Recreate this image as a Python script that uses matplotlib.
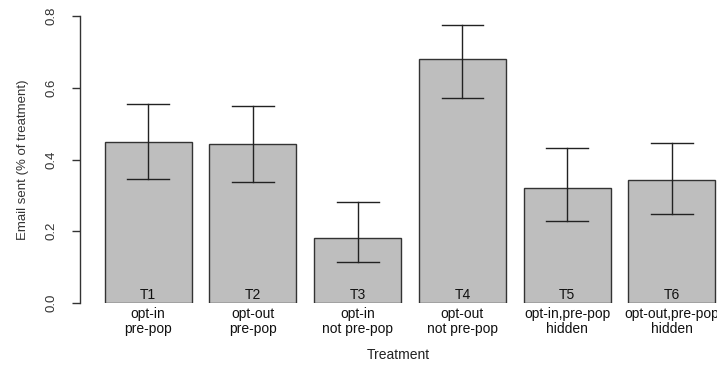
import numpy as np
import matplotlib
matplotlib.use("Agg")
import matplotlib.pyplot as plt

# values
codes = ["T1", "T2", "T3", "T4", "T5", "T6"]
labels = ["opt-in\npre-pop", "opt-out\npre-pop", "opt-in\nnot pre-pop",
          "opt-out\nnot pre-pop", "opt-in,pre-pop\nhidden", "opt-out,pre-pop\nhidden"]
means = [0.449, 0.442, 0.182, 0.681, 0.321, 0.343]
err_hi = [0.555, 0.550, 0.281, 0.776, 0.431, 0.446]
err_lo = [0.347, 0.337, 0.114, 0.572, 0.229, 0.248]

plt.rcParams['font.family'] = ['Liberation Sans', 'DejaVu Sans']

W, H = 717, 366
fig = plt.figure(figsize=(W / 100, H / 100), dpi=100)
# axes: left spine at x=80px, y=0 at 303px, y=0.8 at 16px
ax = fig.add_axes([80 / W, (H - 303) / H, (W - 80) / W, (303 - 16) / H])

x = np.arange(len(means))
ax.bar(x, means, width=0.83, color="#bebebe", edgecolor="#333333", linewidth=1.0, zorder=1)
for i in range(len(means)):
    ax.plot([x[i], x[i]], [err_lo[i], err_hi[i]], color="#222222", lw=1.0, zorder=2)
    for yy in (err_lo[i], err_hi[i]):
        ax.plot([x[i] - 0.2, x[i] + 0.2], [yy, yy], color="#222222", lw=1.0, zorder=2)
    ax.text(x[i], 0.003, codes[i], ha="center", va="bottom", fontsize=10, color="#111111")

ax.set_xlim(-0.651, 5.43)
ax.set_ylim(0, 0.8)
ax.set_yticks([0.0, 0.2, 0.4, 0.6, 0.8])
ax.set_yticklabels(["0.0", "0.2", "0.4", "0.6", "0.8"], rotation=90, va="center", fontsize=9.5, color="#333333")
ax.tick_params(axis="y", length=6, width=1, color="#333333", pad=10)
ax.set_xticks(x)
ax.set_xticklabels(labels, fontsize=10, linespacing=1.05, color="#111111")
ax.tick_params(axis="x", length=0, pad=3)
for s in ("top", "right", "bottom"):
    ax.spines[s].set_visible(False)
ax.spines["left"].set_color("#333333")
ax.spines["left"].set_linewidth(1)

ax.set_ylabel("Email sent (% of treatment)", fontsize=9.5, color="#333333", labelpad=12)
fig.text((80 + 717) / 2 / W, 1 - 355 / H, "Treatment", ha="center", va="center", fontsize=10, color="#222222")

fig.savefig("out.png", dpi=100)
